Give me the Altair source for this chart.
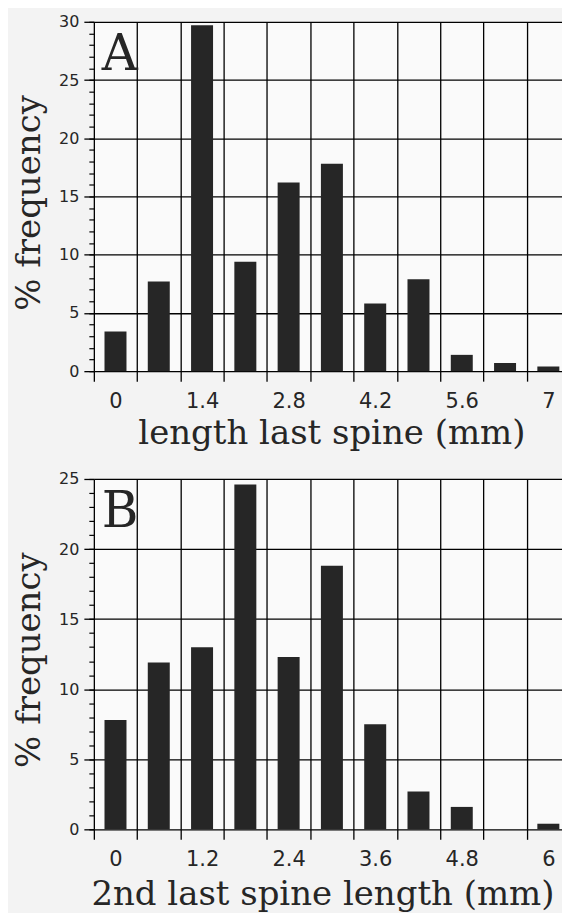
import altair as alt
import pandas as pd

# Panel A: length of last spine
a_centers = [0.0, 0.7, 1.4, 2.1, 2.8, 3.5, 4.2, 4.9, 5.6, 6.3, 7.0]
a_values = [3.4, 7.7, 29.7, 9.4, 16.2, 17.8, 5.8, 7.9, 1.4, 0.7, 0.4]
a_tick_labels = [0, 1.4, 2.8, 4.2, 5.6, 7]
a_title = "length last spine (mm)"

# Panel B: length of 2nd last spine
b_centers = [0.0, 0.6, 1.2, 1.8, 2.4, 3.0, 3.6, 4.2, 4.8, 5.4, 6.0]
b_values = [7.8, 11.9, 13.0, 24.6, 12.3, 18.8, 7.5, 2.7, 1.6, 0.0, 0.4]
b_tick_labels = [0, 1.2, 2.4, 3.6, 4.8, 6]
b_title = "2nd last spine length (mm)"

y_title = "% frequency"

INK = "#262626"
SERIF = "DejaVu Serif"
SANS = "DejaVu Sans"
PLOT_W = 477


def panel(centers, values, bin_w, tick_labels, ymax, xtitle, letter, plot_h,
          title_x, title_pad):
    df = pd.DataFrame({"c": centers, "v": values})
    edges = [round(c - bin_w / 2, 4) for c in centers] + [round(centers[-1] + bin_w / 2, 4)]
    xs = alt.Scale(domain=[edges[0], edges[-1]], nice=False, zero=False)
    ys = alt.Scale(domain=[0, ymax], nice=False, zero=True)
    half = bin_w * 0.254
    base = alt.Chart(df).transform_calculate(
        x0=f"datum.c - {half}", x1=f"datum.c + {half}"
    )
    bars = base.mark_bar(color=INK).encode(
        x=alt.X(
            "x0:Q",
            scale=xs,
            axis=alt.Axis(
                orient="bottom",
                values=tick_labels,
                labelExpr="format(datum.value, '~g')",
                grid=False,
                domain=False,
                tickSize=10,
                tickColor="transparent",
                labelPadding=9,
                labelFont=SANS,
                labelFontSize=21,
                labelColor=INK,
                labelFlush=False,
                labelOverlap=False,
                title=xtitle,
                titleFont=SERIF,
                titleFontSize=34,
                titleFontWeight="normal",
                titleColor=INK,
                titlePadding=title_pad,
                titleX=title_x,
                titleAlign="center",
            ),
        ),
        x2="x1:Q",
        y=alt.Y(
            "v:Q",
            scale=ys,
            axis=alt.Axis(
                orient="left",
                values=list(range(0, ymax + 1, 5)),
                grid=True,
                gridColor="black",
                gridWidth=1.3,
                gridOpacity=1,
                domain=False,
                tickSize=10,
                tickColor="black",
                tickWidth=1.3,
                labelPadding=5,
                labelFont=SANS,
                labelFontSize=16,
                labelColor=INK,
                title=y_title,
                titleFont=SERIF,
                titleFontSize=34,
                titleFontWeight="normal",
                titleColor=INK,
                titlePadding=12,
                titleY=181,
            ),
        ),
        y2=alt.datum(0),
    )
    frame = base.mark_bar(opacity=0).encode(
        x=alt.X(
            "x0:Q",
            scale=xs,
            axis=alt.Axis(
                orient="bottom",
                values=edges,
                grid=True,
                gridColor="black",
                gridWidth=1.3,
                gridOpacity=1,
                domain=False,
                labels=False,
                tickSize=10,
                tickColor="black",
                tickWidth=1.3,
                title=None,
            ),
        ),
        x2="x1:Q",
        y=alt.Y(
            "v:Q",
            scale=ys,
            axis=alt.Axis(
                orient="left",
                values=list(range(0, ymax + 1)),
                grid=False,
                domain=False,
                labels=False,
                tickSize=5,
                tickColor="black",
                tickWidth=1.2,
                title=None,
            ),
        ),
        y2=alt.datum(0),
    )
    tag = (
        alt.Chart(pd.DataFrame({"letter": [letter]}))
        .mark_text(
            font=SERIF,
            fontSize=50,
            color=INK,
            align="left",
            baseline="alphabetic",
        )
        .encode(x=alt.value(8), y=alt.value(48), text="letter:N")
    )
    return (
        alt.layer(frame, bars, tag)
        .resolve_axis(x="independent", y="independent")
        .properties(width=PLOT_W, height=plot_h)
    )


chart_a = panel(a_centers, a_values, 0.7, a_tick_labels, 30, a_title, "A", 350, 238, 5)
chart_b = panel(b_centers, b_values, 0.6, b_tick_labels, 25, b_title, "B", 351, 229, 8)

chart = (
    alt.vconcat(chart_a, chart_b, spacing=19)
    .properties(
        padding={"left": 4, "top": 4, "right": -10, "bottom": 0},
        background="#f3f3f3",
    )
    .configure_view(fill="#fafafa", stroke="transparent")
)

chart.save("out.html", embed_options={"renderer": "svg", "actions": False})
